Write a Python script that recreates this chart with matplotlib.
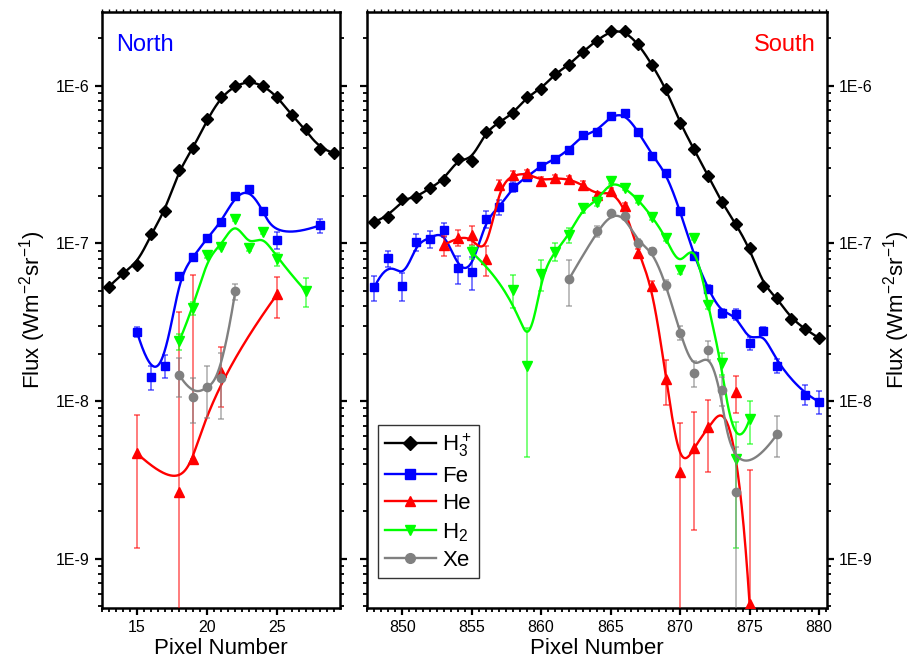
import matplotlib
matplotlib.use('Agg')
import matplotlib.pyplot as plt
from matplotlib.lines import Line2D
from matplotlib.ticker import LogLocator, MultipleLocator, FuncFormatter, NullFormatter
import numpy as np

plt.rcParams['font.family'] = ['Liberation Sans', 'DejaVu Sans']
plt.rcParams['mathtext.default'] = 'regular'

# ---- North (left panel) ----
h3_n_x = [13, 14, 15, 16, 17, 18, 19, 20, 21, 22, 23, 24, 25, 26, 27, 28, 29]
h3_n_y = [5.3e-8, 6.5e-8, 7.3e-8, 1.14e-7, 1.61e-7, 2.92e-7, 4.0e-7, 6.1e-7, 8.5e-7,
          1.0e-6, 1.07e-6, 1.0e-6, 8.5e-7, 6.5e-7, 5.3e-7, 3.97e-7, 3.75e-7]

fe_n_x = [15, 16, 17, 18, 19, 20, 21, 22, 23, 24, 25, 28]
fe_n_y = [2.76e-8, 1.42e-8, 1.68e-8, 6.2e-8, 8.2e-8, 1.08e-7, 1.37e-7, 2.0e-7, 2.21e-7,
          1.61e-7, 1.05e-7, 1.30e-7]
fe_n_e = [2.0e-9, 2.4e-9, 2.7e-9, 2e-9, 2.5e-9, 3e-9, 4e-9, 5e-9, 5e-9, 5e-9, 1.3e-8, 1.3e-8]

he_n_x = [15, 18, 19, 21, 25]
he_n_y = [4.68e-9, 2.67e-9, 4.28e-9, 1.54e-8, 4.79e-8]
he_n_lo = [3.5e-9, 3.4e-8, 0.0, 6.2e-9, 1.4e-8]
he_n_hi = [3.5e-9, 3.4e-8, 5.9e-8, 6.5e-9, 1.35e-8]

h2_n_x = [18, 19, 20, 21, 22, 23, 24, 25, 27]
h2_n_y = [2.39e-8, 3.88e-8, 8.4e-8, 9.55e-8, 1.43e-7, 9.33e-8, 1.18e-7, 7.94e-8, 5.0e-8]
h2_n_e = [2.7e-9, 3.8e-9, 3e-9, 3e-9, 4e-9, 4e-9, 4e-9, 8e-9, 1.05e-8]

xe_n_x = [18, 19, 20, 21, 22]
xe_n_y = [1.47e-8, 1.07e-8, 1.23e-8, 1.40e-8, 4.96e-8]
xe_n_e = [4e-9, 3.4e-9, 4.5e-9, 6.3e-9, 6e-9]

# ---- South (right panel) ----
h3_s_x = [848, 849, 850, 851, 852, 853, 854, 855, 856, 857, 858, 859, 860, 861, 862, 863, 864,
          865, 866, 867, 868, 869, 870, 871, 872, 873, 874, 875, 876, 877, 878, 879, 880]
h3_s_y = [1.37e-7, 1.48e-7, 1.91e-7, 1.96e-7, 2.24e-7, 2.53e-7, 3.44e-7, 3.35e-7,
          5.11e-7, 5.86e-7, 6.68e-7, 8.52e-7, 9.53e-7, 1.19e-6, 1.35e-6, 1.64e-6, 1.93e-6,
          2.22e-6, 2.22e-6, 1.84e-6, 1.35e-6, 9.49e-7, 5.78e-7, 3.95e-7, 2.69e-7, 1.82e-7,
          1.33e-7, 9.33e-8, 5.41e-8, 4.5e-8, 3.31e-8, 2.86e-8, 2.51e-8]

fe_s_x = [848, 849, 850, 851, 852, 853, 854, 855, 856, 857, 858, 859, 860, 861, 862, 863, 864,
          865, 866, 867, 868, 869, 870, 871, 872, 873, 874, 875, 876, 877, 879, 880]
fe_s_y = [5.27e-8, 8.05e-8, 5.41e-8, 1.02e-7, 1.07e-7, 1.22e-7, 6.97e-8, 6.63e-8,
          1.43e-7, 1.69e-7, 2.29e-7, 2.65e-7, 3.11e-7, 3.42e-7, 3.92e-7, 4.88e-7, 5.11e-7,
          6.43e-7, 6.68e-7, 5.11e-7, 3.6e-7, 2.79e-7, 1.61e-7, 8.38e-8, 5.15e-8,
          3.6e-8, 3.57e-8, 2.33e-8, 2.8e-8, 1.68e-8, 1.1e-8, 9.93e-9]
fe_s_e = [9.5e-9, 9.4e-9, 1.1e-8, 1.2e-8, 1.3e-8, 1.25e-8, 1.4e-8, 1.55e-8, 1.7e-8, 1.85e-8,
          1.7e-8, 1.2e-8, 1.3e-8, 1.4e-8, 1.5e-8, 1.6e-8, 1.6e-8, 2e-8, 2e-8, 1.6e-8, 1.2e-8,
          1e-8, 7e-9, 4e-9, 3e-9, 2.4e-9, 2.9e-9, 2.3e-9, 1.4e-9, 1.7e-9, 1.6e-9, 1.65e-9]

he_s_x = [853, 854, 855, 856, 857, 858, 859, 860, 861, 862, 863, 864, 865, 866, 867, 868,
          869, 870, 871, 872, 874, 875]
he_s_y = [9.77e-8, 1.09e-7, 1.13e-7, 7.94e-8, 2.35e-7, 2.72e-7, 2.79e-7, 2.5e-7, 2.59e-7,
          2.56e-7, 2.35e-7, 2.03e-7, 2.15e-7, 1.73e-7, 8.67e-8, 5.41e-8, 1.38e-8, 3.58e-9,
          5.03e-9, 6.84e-9, 1.14e-8, 5.2e-10]
he_s_e = [1.4e-8, 1.3e-8, 1.5e-8, 1.75e-8, 1.7e-8, 1.7e-8, 1.2e-8, 1.2e-8, 1.2e-8, 1.2e-8,
          1.2e-8, 1.0e-8, 1.0e-8, 8e-9, 5e-9, 3.5e-9, 4.4e-9, 3.7e-9, 3.5e-9, 3.3e-9, 3e-9, 3.15e-9]

h2_s_x = [855, 858, 859, 860, 861, 862, 863, 864, 865, 866, 867, 868, 869, 870, 871, 872,
          873, 874, 875]
h2_s_y = [8.79e-8, 5.07e-8, 1.68e-8, 6.41e-8, 8.87e-8, 1.13e-7, 1.67e-7, 1.84e-7, 2.49e-7,
          2.26e-7, 1.89e-7, 1.47e-7, 1.09e-7, 6.79e-8, 1.09e-7, 4.07e-8, 1.74e-8, 4.28e-9, 7.69e-9]
h2_s_e = [8.6e-9, 1.2e-8, 1.24e-8, 1.4e-8, 1.17e-8, 1.24e-8, 1.2e-8, 1.1e-8, 1e-8, 9e-9,
          8e-9, 6e-9, 5e-9, 4e-9, 4e-9, 2.5e-9, 2.8e-9, 3.1e-9, 2.35e-9]

xe_s_x = [862, 864, 865, 866, 867, 868, 869, 870, 871, 872, 873, 874, 877]
xe_s_y = [5.93e-8, 1.19e-7, 1.55e-7, 1.49e-7, 1.01e-7, 9.0e-8, 5.46e-8, 2.7e-8, 1.52e-8,
          2.11e-8, 1.18e-8, 2.64e-9, 6.21e-9]
xe_s_e = [1.9e-8, 9e-9, 6e-9, 6e-9, 5e-9, 4e-9, 4e-9, 2.75e-9, 2.9e-9, 2.9e-9, 2.5e-9, 2.5e-9, 1.8e-9]

species = ['H$_3^+$', 'Fe', 'He', 'H$_2$', 'Xe']
colors = ['black', '#0000FF', '#FF0000', '#00FF00', '#808080']
markers = ['D', 's', '^', 'v', 'o']
msizes = [6, 5.5, 6.5, 6.5, 6]


# clamped cubic B-spline through (x, log y) control points, like Origin's B-spline line
def bspline(xs, ys, n=400):
    P = np.column_stack([np.asarray(xs, float), np.log10(np.asarray(ys, float))])
    m = len(P)
    k = min(3, m - 1)
    knots = np.concatenate([np.zeros(k), np.linspace(0, 1, m - k + 1), np.ones(k)])
    t = np.linspace(0, 1, n)
    B = np.zeros((n, len(knots) - 1))
    for i in range(len(knots) - 1):
        B[:, i] = (knots[i] <= t) & (t < knots[i + 1])
    last = np.where(knots[:-1] < knots[1:])[0][-1]
    B[t >= knots[-1], last] = 1
    for d in range(1, k + 1):
        Bn = np.zeros((n, len(knots) - 1 - d))
        for i in range(len(knots) - 1 - d):
            den1 = knots[i + d] - knots[i]
            den2 = knots[i + d + 1] - knots[i + 1]
            a = (t - knots[i]) / den1 * B[:, i] if den1 > 0 else 0
            b = (knots[i + d + 1] - t) / den2 * B[:, i + 1] if den2 > 0 else 0
            Bn[:, i] = a + b
        B = Bn
    curve = B @ P
    return curve[:, 0], 10 ** curve[:, 1]


def drawSeries(ax, x, y, idx, err=None, lo=None):
    c = colors[idx]
    if err is not None:
        yerr = err if lo is None else [lo, err]
        ax.errorbar(x, y, yerr=yerr, fmt='none', ecolor=c, elinewidth=1.1,
                    capsize=2.5, capthick=1.1, alpha=0.65, zorder=2 + idx)
    sx, sy = bspline(x, y)
    ax.plot(sx, sy, color=c, lw=1.7, zorder=2 + idx)
    ax.plot(x, y, ls='none', marker=markers[idx], color=c, ms=msizes[idx], zorder=3 + idx)


def prettify(ax, xlim, labelside):
    ax.set_yscale('log', nonpositive='clip')
    ax.set_ylim(4.87e-10, 2.94e-6)
    ax.set_xlim(*xlim)
    for sp in ax.spines.values():
        sp.set_linewidth(1.8)
    ax.yaxis.set_major_locator(LogLocator(base=10, numticks=12))
    ax.yaxis.set_minor_locator(LogLocator(base=10, subs=np.arange(2, 10), numticks=12))
    ax.yaxis.set_minor_formatter(NullFormatter())
    ax.yaxis.set_major_formatter(FuncFormatter(lambda v, p: '1E%d' % round(np.log10(v))))
    # only ticks that fall inside the visible range
    ax.set_xticks([v for v in range(0, 1000, 5) if xlim[0] <= v <= xlim[1]])
    ax.xaxis.set_minor_locator(MultipleLocator(0.5))
    ax.tick_params(which='major', direction='out', length=5, width=1.6, labelsize=11.5)
    ax.tick_params(which='minor', direction='out', length=3, width=1.3,
                   labelleft=False, labelright=False, labelbottom=False)
    ax.tick_params(axis='y', which='both', left=True, right=True)
    ax.tick_params(axis='y', which='major',
                   labelleft=(labelside == 'left'), labelright=(labelside == 'right'))
    # small ticks along the top edge
    top = ax.secondary_xaxis('top')
    top.xaxis.set_major_locator(MultipleLocator(0.5))
    top.xaxis.set_major_formatter(NullFormatter())
    top.tick_params(which='both', direction='out', length=2, width=1,
                    labeltop=False, labelbottom=False)
    ax.set_xlabel('Pixel Number', fontsize=16, labelpad=2)


fig = plt.figure(figsize=(9.14, 6.7), dpi=100)
ax_n = fig.add_axes([0.1113, 0.0921, 0.2607, 0.8904])
ax_s = fig.add_axes([0.4012, 0.0921, 0.5033, 0.8904])

# north
drawSeries(ax_n, h3_n_x, h3_n_y, 0)
drawSeries(ax_n, fe_n_x, fe_n_y, 1, fe_n_e)
drawSeries(ax_n, he_n_x, he_n_y, 2, he_n_hi, he_n_lo)
drawSeries(ax_n, h2_n_x, h2_n_y, 3, h2_n_e)
drawSeries(ax_n, xe_n_x, xe_n_y, 4, xe_n_e)

# south
drawSeries(ax_s, h3_s_x, h3_s_y, 0)
drawSeries(ax_s, fe_s_x, fe_s_y, 1, fe_s_e)
drawSeries(ax_s, he_s_x, he_s_y, 2, he_s_e)
drawSeries(ax_s, h2_s_x, h2_s_y, 3, h2_s_e)
drawSeries(ax_s, xe_s_x, xe_s_y, 4, xe_s_e)

prettify(ax_n, (12.5, 29.45), 'left')
prettify(ax_s, (847.45, 880.55), 'right')

ylab = 'Flux (Wm$^{-2}$sr$^{-1}$)'
ax_n.set_ylabel(ylab, fontsize=16, labelpad=6)
ax_s.yaxis.set_label_position('right')
ax_s.set_ylabel(ylab, fontsize=16, labelpad=6, rotation=90)

ax_n.text(0.06, 0.945, 'North', color='#0000FF', fontsize=17, transform=ax_n.transAxes,
          ha='left', va='center')
ax_s.text(0.975, 0.945, 'South', color='#FF0000', fontsize=17, transform=ax_s.transAxes,
          ha='right', va='center')

handles = [Line2D([], [], color=colors[i], marker=markers[i], ms=msizes[i] + 1, lw=1.7)
           for i in range(5)]
leg = ax_s.legend(handles, species, loc='lower left', bbox_to_anchor=(0.0246, 0.051),
                  borderaxespad=0, fontsize=16, frameon=True, fancybox=False,
                  handlelength=2.3, handletextpad=0.3, labelspacing=0.3,
                  borderpad=0.3)
leg.get_frame().set_edgecolor('black')
leg.get_frame().set_linewidth(1.0)
leg.set_zorder(20)

plt.savefig('out.png', dpi=100)
